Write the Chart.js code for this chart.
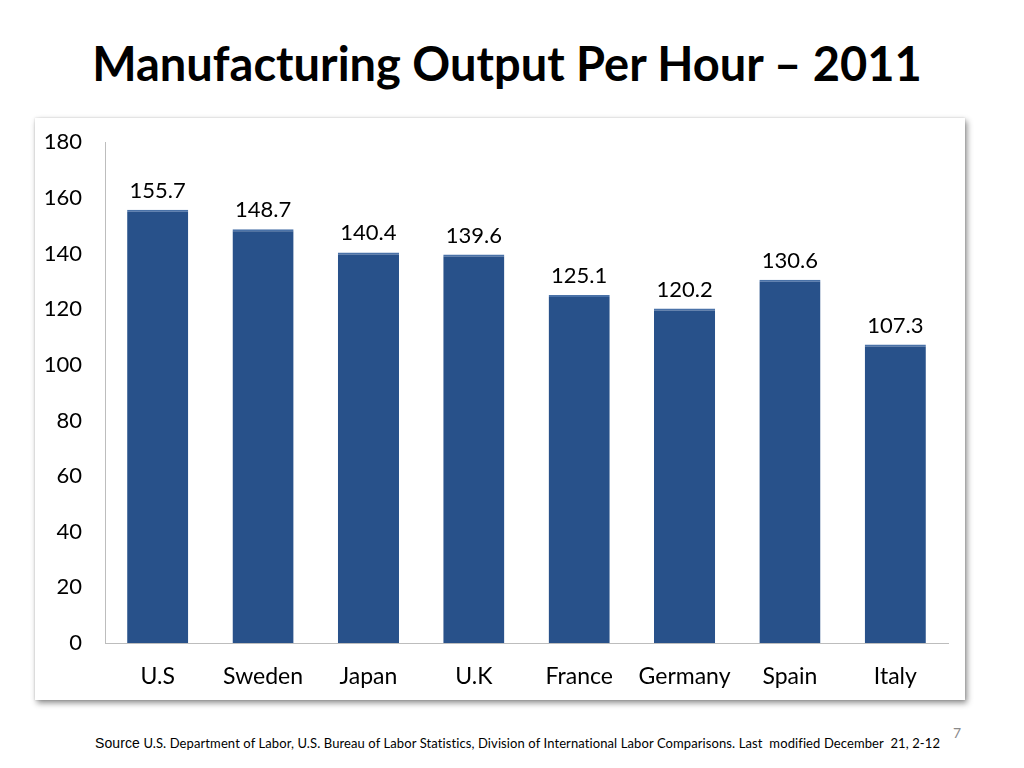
<!DOCTYPE html>
<html>
<head>
<meta charset="utf-8">
<script src="https://cdn.jsdelivr.net/npm/chart.js@4"></script>
<style>
    body { margin: 0; width: 1024px; height: 768px; background: #fff; position: relative; overflow: hidden; font-family: Lato, "Open Sans", sans-serif; }
    #title { position: absolute; left: 0; width: 1014px; top: 35px; text-align: center; font-weight: bold; font-size: 47px; color: #000; }
    #box { position: absolute; left: 35px; top: 118px; width: 930px; height: 582px; background: #fff;
           box-shadow: 2px 3px 6px rgba(0,0,0,0.45), 0 0 2px rgba(0,0,0,0.15); }
    #chart { position: absolute; left: 0; top: -4px; }
    #source { position: absolute; left: 95px; top: 735px; font-size: 13px; color: #000; white-space: nowrap; letter-spacing: 0.1px; }
    #source span { font-family: "Liberation Sans", Arial, sans-serif; font-size: 14px; }
    #page { position: absolute; left: 953px; top: 724px; font-size: 14px; color: #8a8a8a; }
</style>
</head>
<body>
<div id="title">Manufacturing Output Per Hour – 2011</div>
<div id="box"><canvas id="chart" width="930" height="586"></canvas></div>
<div id="source"><span>Source</span> U.S. Department of Labor, U.S. Bureau of Labor Statistics, Division of International Labor Comparisons. Last&nbsp; modified December&nbsp; 21, 2-12</div>
<div id="page">7</div>
<script>
// Chart data
const countries = ['U.S', 'Sweden', 'Japan', 'U.K', 'France', 'Germany', 'Spain', 'Italy'];
const outputPerHour = [155.7, 148.7, 140.4, 139.6, 125.1, 120.2, 130.6, 107.3];
const yTicks = [0, 20, 40, 60, 80, 100, 120, 140, 160, 180];

// Draw value labels above each bar
const valueLabels = {
    id: 'valueLabels',
    afterDatasetsDraw(chart) {
        const ctx = chart.ctx;
        const meta = chart.getDatasetMeta(0);
        ctx.save();
        ctx.font = '22px Lato, "Open Sans", sans-serif';
        ctx.fillStyle = '#000';
        ctx.textAlign = 'center';
        ctx.textBaseline = 'bottom';
        meta.data.forEach((bar, i) => {
            ctx.fillText(outputPerHour[i].toFixed(1), bar.x, bar.y - 8);
        });
        ctx.restore();
    }
};

// Horizontal shading on the bars
function barFill(context) {
    const bar = context.element;
    if (!bar || bar.width === undefined) return '#28518a';
    const c = context.chart.ctx;
    const g = c.createLinearGradient(bar.x - bar.width / 2, 0, bar.x + bar.width / 2, 0);
    g.addColorStop(0, '#1d3e6d');
    g.addColorStop(0.12, '#2a548f');
    g.addColorStop(0.88, '#2a548f');
    g.addColorStop(1, '#1d3e6d');
    return g;
}

new Chart(document.getElementById('chart'), {
    type: 'bar',
    data: {
        labels: countries,
        datasets: [{
            data: outputPerHour,
            backgroundColor: barFill,
            borderColor: '#4a72a8',
            borderWidth: { top: 2, left: 0, right: 0, bottom: 0 },
            barPercentage: 0.58,
            categoryPercentage: 1.0
        }]
    },
    options: {
        responsive: false,
        animation: false,
        devicePixelRatio: 1,
        layout: { padding: { top: 0, right: 17, left: 0, bottom: 0 } },
        plugins: { legend: { display: false }, tooltip: { enabled: false } },
        scales: {
            x: {
                grid: { display: false },
                border: { color: '#bdbdbd', width: 1 },
                ticks: { color: '#000', font: { size: 23, family: 'Lato, "Open Sans", sans-serif' }, padding: 12, maxRotation: 0, autoSkip: false },
                afterFit: s => { s.height = 57; }
            },
            y: {
                min: 0,
                max: 180,
                afterBuildTicks: s => { s.ticks = yTicks.map(v => ({ value: v })); },
                grid: { display: false },
                border: { color: '#bdbdbd', width: 1 },
                ticks: { color: '#000', font: { size: 22, family: 'Lato, "Open Sans", sans-serif' }, padding: 15, autoSkip: false },
                afterFit: s => { s.width = 70; }
            }
        }
    },
    plugins: [valueLabels]
});
</script>
</body>
</html>
